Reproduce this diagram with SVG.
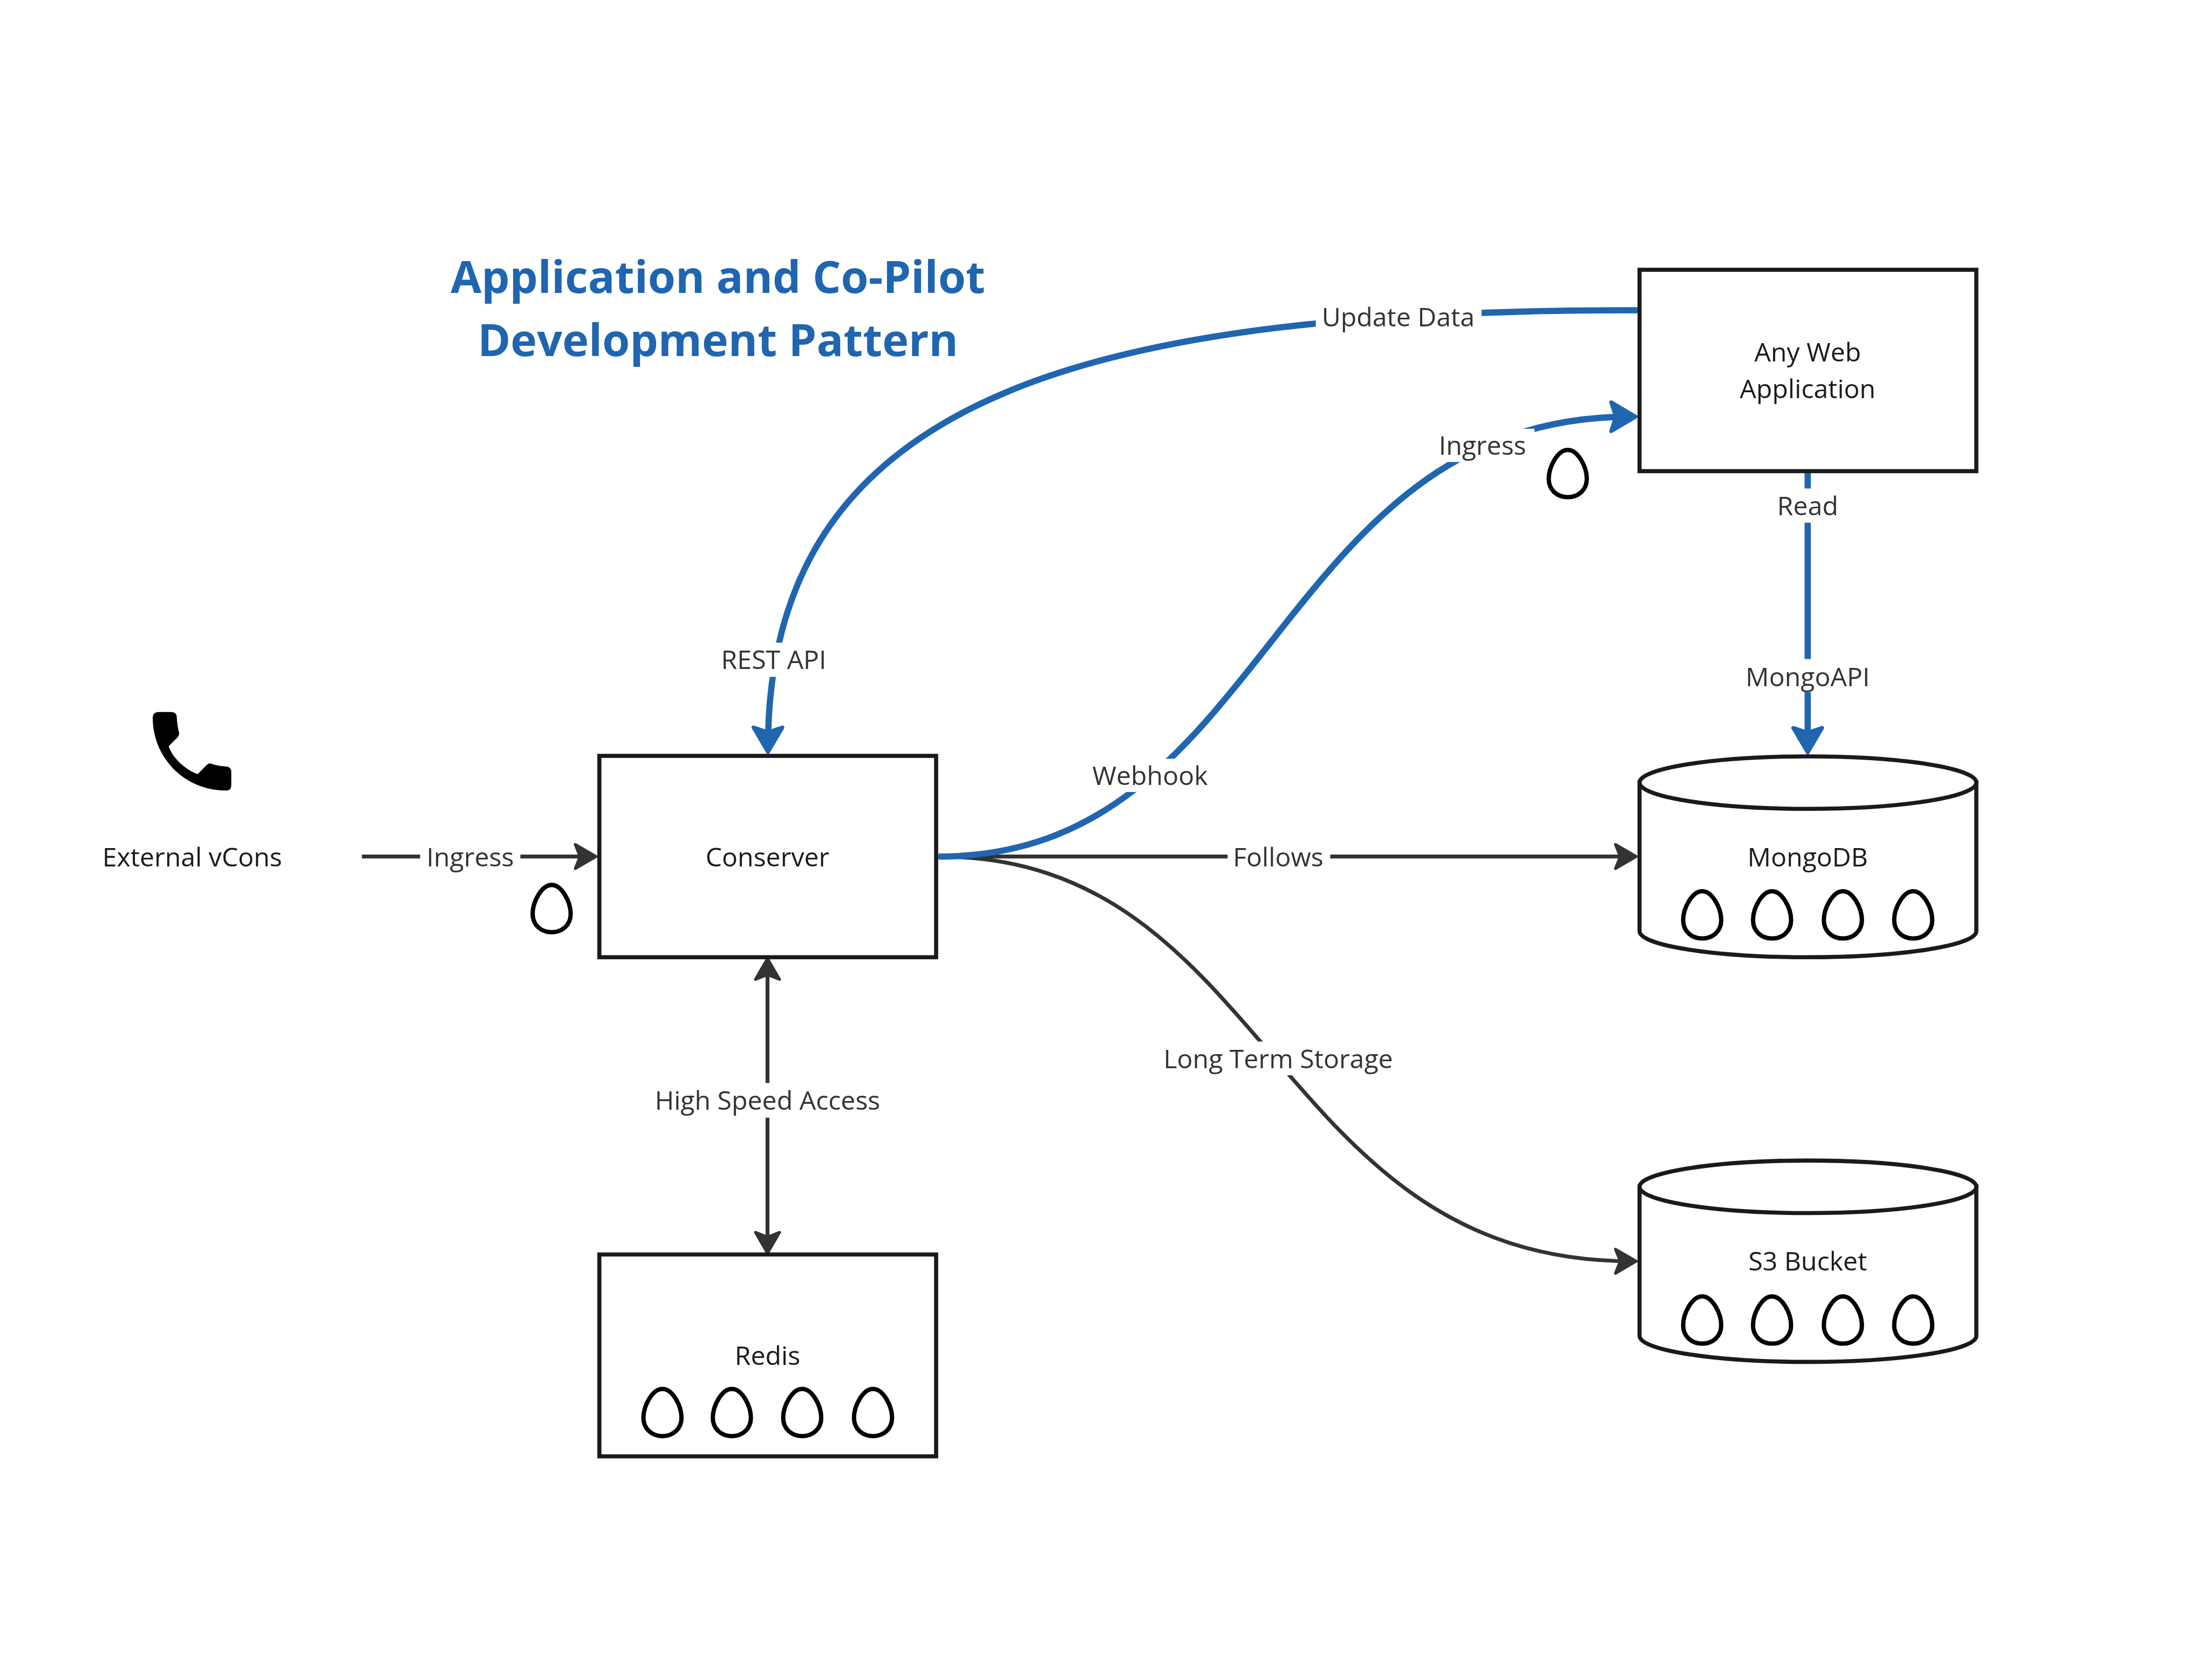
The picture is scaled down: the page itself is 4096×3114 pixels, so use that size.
<svg xmlns="http://www.w3.org/2000/svg" width="4096" height="3114" viewBox="0 0 4096 3114">
<style>
text{font-family:"Open Sans","Liberation Sans",sans-serif;font-size:54px;text-anchor:middle}
.n{fill:#1a1a1a}
.l{fill:#333}
.t{fill:#2065b0;font-size:92.6px;font-weight:700}
.box{fill:#fff;stroke:#1a1a1a;stroke-width:8.5}
.egg{fill:none;stroke:#000;stroke-width:9}
.d{fill:none;stroke:#333;stroke-width:8}
.b{fill:none;stroke:#2065b0;stroke-width:13}
.m{fill:#fff}
</style>
<defs>
<marker id="ad" markerUnits="userSpaceOnUse" orient="auto-start-reverse" markerWidth="80" markerHeight="80" viewBox="-70 -40 80 80" refX="-12" refY="0">
<path d="M-46 -25L-3 0L-46 25L-36 0Z" fill="#333" stroke="#333" stroke-width="6" stroke-linejoin="round"/>
</marker>
<marker id="ab" markerUnits="userSpaceOnUse" orient="auto-start-reverse" markerWidth="90" markerHeight="90" viewBox="-75 -45 90 90" refX="-14" refY="0">
<path d="M-55 -30L-4 0L-55 30L-45 0Z" fill="#2065b0" stroke="#2065b0" stroke-width="8" stroke-linejoin="round"/>
</marker>
<path id="e" d="M0 -49C21 -49 39.5 -14 39.5 11C39.5 34 22 49 0 49C-22 49 -39.5 34 -39.5 11C-39.5 -14 -21 -49 0 -49Z"/>
</defs>
<rect width="4096" height="3114" fill="#fff"/>
<g transform="scale(0.89296)">
<g id="connectors">
<path class="d" d="M751 1778H1228" marker-end="url(#ad)"/>
<path class="d" d="M1593 1999V2592" marker-start="url(#ad)" marker-end="url(#ad)"/>
<path class="d" d="M1948 1778H3387" marker-end="url(#ad)"/>
<path class="d" d="M1948 1778C2640 1778 2640 2618 3387 2618" marker-end="url(#ad)"/>
<path class="b" d="M3399 644C2300 644 1594 800 1594 1551" marker-end="url(#ab)"/>
<path class="b" d="M1948 1778C2640 1778 2640 865 3385 865" marker-end="url(#ab)"/>
<path class="b" d="M3752 982V1552" marker-end="url(#ab)"/>
<g id="connector-labels">
<rect class="m" x="872" y="1743" width="208" height="70"/><text class="l" x="976" y="1798">Ingress</text>
<rect class="m" x="1345" y="2248" width="496" height="72"/><text class="l" x="1593" y="2304">High Speed Access</text>
<rect class="m" x="2548" y="1743" width="213" height="70"/><text class="l" x="2653" y="1798">Follows</text>
<rect class="m" x="2400" y="2162" width="506" height="70"/><text class="l" x="2653" y="2217">Long Term Storage</text>
<rect class="m" x="1480" y="1334" width="252" height="71"/><text class="l" x="1606" y="1389">REST API</text>
<rect class="m" x="2731" y="622" width="344" height="70"/><text class="l" x="2902" y="677">Update Data</text>
<rect class="m" x="2255" y="1575" width="265" height="69"/><text class="l" x="2387" y="1629">Webhook</text>
<rect class="m" x="2975" y="890" width="210" height="69"/><text class="l" x="3077" y="944">Ingress</text>
<rect class="m" x="3670" y="1014" width="164" height="71"/><text class="l" x="3752" y="1069">Read</text>
<rect class="m" x="3610" y="1368" width="284" height="69"/><text class="l" x="3752" y="1424">MongoAPI</text>
</g>
</g>
<g id="title"><text class="t" x="1490" y="608">Application and Co-Pilot</text><text class="t" x="1490" y="739">Development Pattern</text></g>
<g id="external-vcons">
<path fill="#000" d="M317 1490Q317 1478 330 1478H355Q367 1478 367 1490Q368 1508 372 1522Q372 1526 369 1530L350 1549C358 1572 382 1596 410 1607L429 1588Q432 1584 437 1585Q455 1591 470 1591Q480 1592 480 1602V1630Q480 1641 470 1641C380 1641 317 1570 317 1490Z"/>
<text class="n" x="399" y="1799">External vCons</text>
</g>
<g id="egg-ingress"><use href="#e" class="egg" x="1145" y="1886"/></g>
<g id="conserver"><rect class="box" x="1244" y="1569" width="699" height="418"/><text class="n" x="1593" y="1798">Conserver</text></g>
<g id="redis"><rect class="box" x="1244" y="2604" width="699" height="419"/><text class="n" x="1593" y="2833">Redis</text>
<use href="#e" class="egg" x="1375" y="2932"/><use href="#e" class="egg" x="1519" y="2932"/><use href="#e" class="egg" x="1665" y="2932"/><use href="#e" class="egg" x="1812" y="2932"/></g>
<g id="web-app"><rect class="box" x="3403" y="560" width="699" height="418"/><text class="n" x="3752" y="750">Any Web</text><text class="n" x="3752" y="827">Application</text></g>
<g id="egg-web"><use href="#e" class="egg" x="3254" y="983"/></g>
<g id="mongodb">
<path class="box" d="M3403 1624V1933A349.5 54 0 0 0 4102 1933V1624Z"/>
<ellipse class="box" cx="3752.5" cy="1624.5" rx="349.5" ry="54.5"/>
<text class="n" x="3752" y="1798">MongoDB</text>
<use href="#e" class="egg" x="3533" y="1899"/><use href="#e" class="egg" x="3678" y="1899"/><use href="#e" class="egg" x="3825" y="1899"/><use href="#e" class="egg" x="3971" y="1899"/>
</g>
<g id="s3-bucket">
<path class="box" d="M3403 2463V2773A349.5 54 0 0 0 4102 2773V2463Z"/>
<ellipse class="box" cx="3752.5" cy="2463.5" rx="349.5" ry="54.5"/>
<text class="n" x="3752" y="2637">S3 Bucket</text>
<use href="#e" class="egg" x="3533" y="2740"/><use href="#e" class="egg" x="3678" y="2740"/><use href="#e" class="egg" x="3825" y="2740"/><use href="#e" class="egg" x="3971" y="2740"/>
</g>
</g>
</svg>
